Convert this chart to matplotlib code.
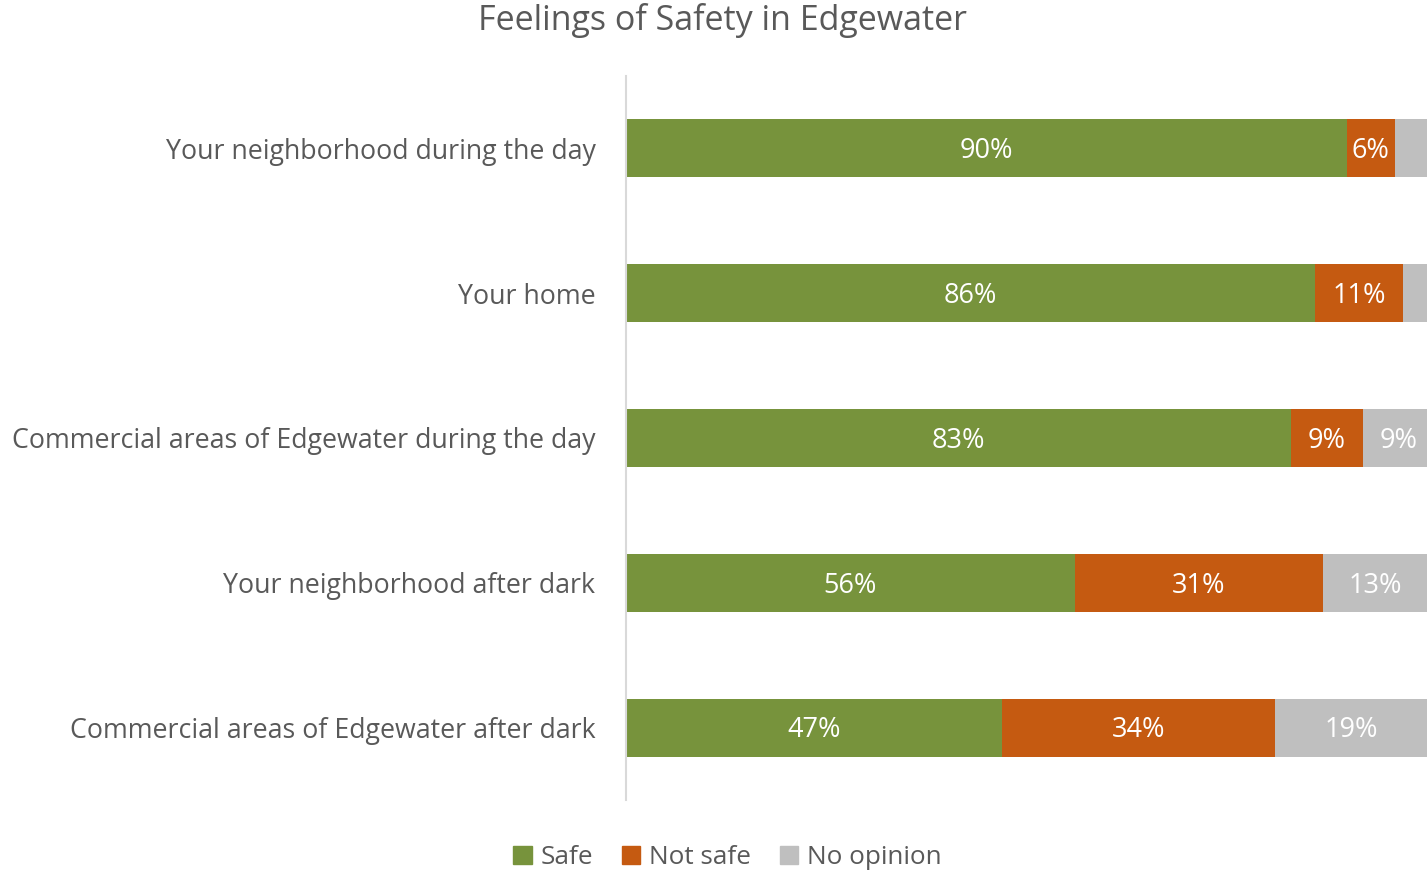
import numpy as np
import matplotlib.pyplot as plt
from matplotlib.patches import Patch

plt.rcParams['font.family'] = ['Open Sans', 'DejaVu Sans']

# survey results, percent of respondents
categories = ['Your neighborhood during the day',
              'Your home',
              'Commercial areas of Edgewater during the day',
              'Your neighborhood after dark',
              'Commercial areas of Edgewater after dark']
safe = [90, 86, 83, 56, 47]
not_safe = [6, 11, 9, 31, 34]
no_opinion = [4, 3, 9, 13, 19]

series = [('Safe', safe, '#77933C'),
          ('Not safe', not_safe, '#C55A11'),
          ('No opinion', no_opinion, '#BFBFBF')]

fig = plt.figure(figsize=(14.27, 8.76), dpi=100)
ax = fig.add_axes([0.4387, 0.0868, 0.5613, 0.8265])

y = np.arange(len(categories))
left = np.zeros(len(categories))
for name, vals, col in series:
    vals = np.array(vals, dtype=float)
    ax.barh(y, vals, left=left, height=0.4, color=col, label=name)
    for yi, l, v in zip(y, left, vals):
        # tiny segments stay unlabelled
        if v >= 5:
            ax.text(l + v / 2, yi + 0.02, f'{int(v)}%', ha='center', va='center',
                    color='white', fontsize=19.5)
    left += vals

ax.set_xlim(0, 100)
ax.set_ylim(len(categories) - 0.5, -0.5)
ax.set_yticks(y)
ax.set_yticklabels(categories, fontsize=19.3, color='#595959')
ax.tick_params(axis='y', length=0, pad=22)
ax.set_xticks([])
for s in ['top', 'right', 'bottom']:
    ax.spines[s].set_visible(False)
ax.spines['left'].set_color('#D9D9D9')
ax.spines['left'].set_linewidth(1.5)

fig.text(0.506, 0.977, 'Feelings of Safety in Edgewater', ha='center', va='center',
         fontsize=24.5, color='#595959')

handles = [Patch(color=c) for _, _, c in series]
fig.legend(handles, [n for n, _, _ in series], loc='center', bbox_to_anchor=(0.51, 0.021),
           ncol=3, frameon=False, fontsize=18.8, handlelength=0.7, handleheight=0.7,
           handletextpad=0.35, columnspacing=1.1, labelcolor='#595959')

fig.savefig('out.png', dpi=100)
